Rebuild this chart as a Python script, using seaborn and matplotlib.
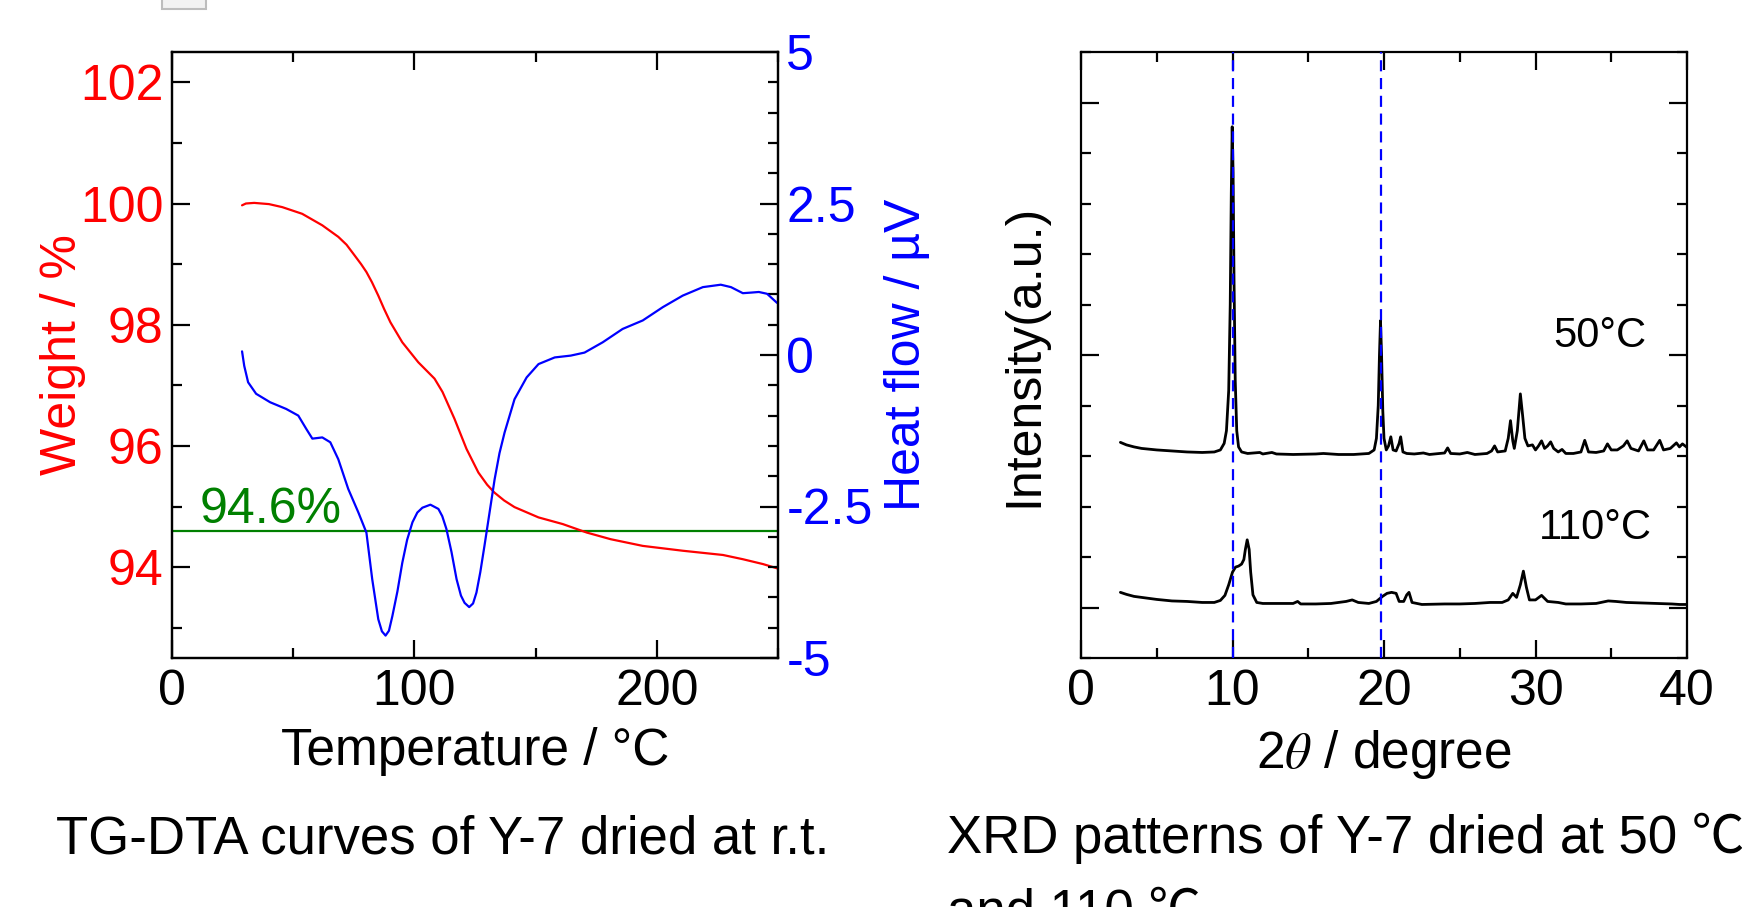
import numpy as np
import pandas as pd
import seaborn as sns
import matplotlib
matplotlib.use('Agg')
from matplotlib import pyplot as plt
from matplotlib.ticker import MultipleLocator, FixedLocator, FuncFormatter
from matplotlib.patches import Rectangle

# TG-DTA data
tg_temp = [28.9, 30.5, 33.9, 40.0, 45.5, 53.7, 62.0, 68.6, 72.0, 75.2, 78.0, 80.2, 82.5, 85.1,
           87.5, 90.1, 95.0, 101.6, 108.3, 111.6, 116.5, 121.5, 126.4, 130.0, 133.0, 137.0,
           141.3, 151.2, 161.2, 171.1, 181.0, 194.2, 210.7, 227.3, 235.5, 243.8, 249.6]
tg_weight = [99.97, 100.0, 100.01, 99.99, 99.94, 99.83, 99.64, 99.45, 99.32, 99.15, 99.0,
             98.87, 98.70, 98.48, 98.26, 98.04, 97.71, 97.38, 97.11, 96.89, 96.45, 95.95,
             95.56, 95.36, 95.23, 95.10, 94.99, 94.82, 94.71, 94.57, 94.46, 94.35, 94.27,
             94.20, 94.13, 94.05, 93.98]

dta_temp = [28.9, 29.8, 31.4, 34.7, 40.5, 47.1, 52.1, 55.4, 57.9, 60.0, 62.0, 65.3, 68.6,
            72.7, 76.9, 80.2, 82.6, 85.1, 86.6, 88.1, 89.5, 90.9, 93.0, 95.0, 97.0, 99.2,
            101.2, 103.3, 106.6, 109.9, 111.5, 113.2, 115.3, 117.4, 119.2, 120.7, 122.6,
            124.2, 125.6, 127.2, 128.9, 131.0, 133.1, 135.1, 137.2, 141.3, 146.3, 151.2,
            157.9, 164.5, 170.2, 177.7, 185.9, 194.2, 202.5, 210.7, 219.0, 226.4, 230.6,
            235.5, 239.0, 242.1, 245.5, 249.6]
dta_heat = [0.06, -0.18, -0.45, -0.64, -0.78, -0.89, -1.00, -1.22, -1.38, -1.37, -1.36,
            -1.44, -1.72, -2.21, -2.60, -2.93, -3.70, -4.36, -4.56, -4.63, -4.55, -4.31,
            -3.90, -3.43, -3.05, -2.76, -2.60, -2.52, -2.47, -2.54, -2.66, -2.87, -3.25,
            -3.70, -3.97, -4.09, -4.16, -4.10, -3.92, -3.58, -3.15, -2.60, -2.05, -1.62,
            -1.28, -0.73, -0.37, -0.15, -0.04, -0.01, 0.04, 0.21, 0.43, 0.57, 0.79, 0.98,
            1.12, 1.16, 1.12, 1.02, 1.03, 1.04, 1.01, 0.86]

residual = 94.6

# XRD patterns (offset, arbitrary units)
xrd_2theta_50 = [2.6, 3.0, 3.5, 4.0, 5.0, 6.0, 7.0, 8.0, 8.8, 9.2, 9.45, 9.6, 9.75, 9.85,
                 9.92, 9.98, 10.04, 10.1, 10.18, 10.28, 10.4, 10.6, 11.0, 11.8, 12.0, 12.6,
                 12.9, 14.0, 15.5, 16.0, 17.0, 18.0, 19.0, 19.35, 19.5, 19.62, 19.7, 19.77,
                 19.84, 19.92, 20.0, 20.15, 20.3, 20.45, 20.6, 20.8, 21.0, 21.1, 21.25, 21.5,
                 22.0, 22.6, 23.0, 24.0, 24.2, 24.4, 25.0, 25.5, 26.0, 26.8, 27.1, 27.3, 27.5,
                 28.0, 28.2, 28.35, 28.5, 28.6, 28.8, 29.0, 29.15, 29.3, 29.5, 29.8, 30.0,
                 30.2, 30.4, 30.6, 30.8, 31.0, 31.2, 31.5, 31.75, 32.0, 32.5, 33.0, 33.25,
                 33.5, 34.0, 34.5, 34.75, 35.0, 35.4, 35.8, 36.05, 36.3, 36.8, 37.15, 37.4,
                 37.8, 38.2, 38.45, 38.9, 39.3, 39.5, 39.7, 40.0]
xrd_int_50 = [4.27, 4.22, 4.18, 4.15, 4.12, 4.10, 4.08, 4.07, 4.08, 4.12, 4.25, 4.5, 5.3, 7.0,
              9.2, 10.52, 9.6, 7.5, 5.5, 4.5, 4.18, 4.08, 4.05, 4.07, 4.04, 4.07, 4.04, 4.03,
              4.04, 4.05, 4.03, 4.03, 4.05, 4.12, 4.35, 5.0, 6.0, 6.68, 6.0, 4.9, 4.35, 4.12,
              4.2, 4.38, 4.12, 4.1, 4.25, 4.38, 4.08, 4.05, 4.04, 4.06, 4.03, 4.06, 4.16,
              4.05, 4.04, 4.07, 4.03, 4.05, 4.1, 4.2, 4.08, 4.1, 4.35, 4.7, 4.3, 4.15, 4.5,
              5.23, 4.8, 4.35, 4.2, 4.22, 4.12, 4.2, 4.3, 4.15, 4.2, 4.28, 4.15, 4.08, 4.13,
              4.05, 4.05, 4.08, 4.31, 4.08, 4.07, 4.1, 4.24, 4.12, 4.12, 4.2, 4.3, 4.15, 4.1,
              4.3, 4.12, 4.12, 4.31, 4.12, 4.15, 4.26, 4.18, 4.24, 4.17]

xrd_2theta_110 = [2.6, 3.0, 3.5, 4.0, 5.0, 6.0, 7.0, 8.0, 8.8, 9.2, 9.5, 9.75, 10.0, 10.2,
                  10.4, 10.6, 10.75, 10.85, 10.97, 11.1, 11.2, 11.35, 11.6, 12.0, 13.0, 14.0,
                  14.3, 14.5, 15.5, 16.5, 17.5, 17.9, 18.3, 19.0, 19.5, 19.9, 20.2, 20.5, 20.8,
                  21.0, 21.3, 21.5, 21.65, 21.85, 22.5, 24.0, 25.0, 26.0, 27.0, 27.8, 28.2,
                  28.5, 28.75, 29.0, 29.2, 29.4, 29.6, 30.0, 30.4, 30.8, 31.5, 32.0, 33.0,
                  34.0, 34.8, 35.3, 36.0, 37.0, 38.0, 39.0, 39.5, 40.0]
xrd_int_110 = [1.30, 1.26, 1.22, 1.20, 1.16, 1.13, 1.12, 1.10, 1.10, 1.14, 1.24, 1.45, 1.70,
               1.80, 1.82, 1.86, 1.95, 2.15, 2.34, 2.15, 1.70, 1.25, 1.10, 1.08, 1.08, 1.08,
               1.12, 1.07, 1.07, 1.08, 1.12, 1.15, 1.10, 1.08, 1.12, 1.22, 1.28, 1.30, 1.28,
               1.12, 1.12, 1.25, 1.30, 1.10, 1.06, 1.07, 1.07, 1.08, 1.10, 1.10, 1.15, 1.28,
               1.20, 1.45, 1.72, 1.40, 1.15, 1.15, 1.24, 1.12, 1.10, 1.07, 1.07, 1.08, 1.13,
               1.12, 1.10, 1.09, 1.08, 1.07, 1.06, 1.06]

ref_lines = [10.0, 19.8]

sns.set_style('ticks')
plt.rcParams['font.family'] = ['Liberation Sans', 'Noto Sans CJK JP', 'DejaVu Sans']
plt.rcParams['mathtext.fontset'] = 'stix'
plt.rcParams['axes.unicode_minus'] = False
plt.rcParams['axes.linewidth'] = 1.6
for k in ['text.color', 'axes.labelcolor', 'xtick.color', 'ytick.color', 'axes.edgecolor']:
    plt.rcParams[k] = 'black'

FS = 36
fig = plt.figure(figsize=(17.42, 9.07), dpi=100)
W, H = 1742, 907
ax1 = fig.add_axes([172 / W, 1 - 658 / H, 606 / W, 606 / H])
ax3 = fig.add_axes([1081 / W, 1 - 658 / H, 606 / W, 606 / H])
ax2 = ax1.twinx()

tg = pd.DataFrame({'T': tg_temp, 'w': tg_weight})
dta = pd.DataFrame({'T': dta_temp, 'h': dta_heat})

# ---- TG-DTA ----
ax1.axhline(residual, color='#008000', lw=1.6, zorder=1)
sns.lineplot(data=tg, x='T', y='w', ax=ax1, color='red', lw=1.6, sort=False, estimator=None)
sns.lineplot(data=dta, x='T', y='h', ax=ax2, color='blue', lw=1.6, sort=False, estimator=None)
ax1.text(11.5, 94.72, '94.6%', color='#008000', fontsize=FS, va='baseline')

ax1.set_xlim(0, 250)
ax1.set_ylim(92.5, 102.5)
ax2.set_ylim(-5, 5)
ax1.xaxis.set_major_locator(MultipleLocator(100))
ax1.xaxis.set_minor_locator(MultipleLocator(50))
ax1.yaxis.set_major_locator(MultipleLocator(2))
ax1.yaxis.set_minor_locator(MultipleLocator(1))
ax2.yaxis.set_major_locator(MultipleLocator(2.5))
ax2.yaxis.set_minor_locator(MultipleLocator(0.5))
ax2.yaxis.set_major_formatter(FuncFormatter(lambda v, p: f'{v:g}'))

ax1.tick_params(which='both', direction='in', top=True, bottom=True, left=True, right=False,
                width=1.6, labelsize=FS)
ax1.tick_params(which='major', length=13)
ax1.tick_params(which='minor', length=7)
ax1.tick_params(axis='x', pad=8)
ax1.tick_params(axis='y', labelcolor='red', pad=6)
ax2.tick_params(which='both', direction='in', right=True, left=False, width=1.6,
                labelsize=FS, labelcolor='blue', pad=6)
ax2.tick_params(which='major', length=13)
ax2.tick_params(which='minor', length=7)

ax1.set_xlabel('Temperature / °C', fontsize=37, va='center')
ax1.xaxis.set_label_coords(0.5, -0.155)
ax1.set_ylabel('Weight / %', fontsize=FS, color='red', va='center')
ax1.yaxis.set_label_coords(-0.18, 0.5)
ax2.set_ylabel('Heat flow / µV', fontsize=FS, color='blue', va='center')
ax2.yaxis.set_label_coords(1.213, 0.5)

# ---- XRD ----
x50 = pd.DataFrame({'t': xrd_2theta_50, 'i': xrd_int_50})
x110 = pd.DataFrame({'t': xrd_2theta_110, 'i': xrd_int_110})
sns.lineplot(data=x50, x='t', y='i', ax=ax3, color='black', lw=2, sort=False, estimator=None)
sns.lineplot(data=x110, x='t', y='i', ax=ax3, color='black', lw=2, sort=False, estimator=None)
for xv in ref_lines:
    ax3.axvline(xv, color='blue', lw=1.6, ls=(0, (5, 3)), zorder=3)
ax3.text(31.2, 6.16, '50°C', fontsize=30, va='baseline')
ax3.text(30.2, 2.36, '110°C', fontsize=30, va='baseline')

ax3.set_xlim(0, 40)
ax3.set_ylim(0, 12)
ax3.xaxis.set_major_locator(MultipleLocator(10))
ax3.xaxis.set_minor_locator(MultipleLocator(5))
ax3.yaxis.set_major_locator(FixedLocator([1, 6, 11]))
ax3.yaxis.set_minor_locator(MultipleLocator(1))
ax3.tick_params(which='both', direction='in', top=True, bottom=True, left=True, right=True,
                width=1.6, labelsize=FS, labelleft=False)
ax3.tick_params(which='major', length=13)
ax3.tick_params(which='minor', length=7)
ax3.tick_params(axis='x', pad=8)
ax3.set_xlabel(r'2$\theta$ / degree', fontsize=37, va='center')
ax3.xaxis.set_label_coords(0.5, -0.16)
ax3.set_ylabel('Intensity(a.u.)', fontsize=FS, va='center')
ax3.yaxis.set_label_coords(-0.093, 0.5)

# captions
fig.text(56 / W, 0.0595, 'TG-DTA curves of Y-7 dried at r.t.', fontsize=38, va='baseline')
fig.text(947 / W, 0.0595, 'XRD patterns of Y-7 dried at 50 ℃', fontsize=38, va='baseline')
fig.text(947 / W, -0.022, 'and 110 ℃', fontsize=38, va='baseline')

# cropped box edge at the very top
fig.patches.append(Rectangle((162 / W, 1 - 9 / H), 44 / W, 12 / H, transform=fig.transFigure,
                             facecolor='#f2f2f2', edgecolor='#bdbdbd', lw=1.5))

plt.savefig('out.png', dpi=100)
